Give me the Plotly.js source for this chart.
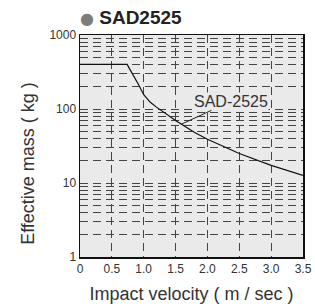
<!DOCTYPE html>
<html>
<head>
<meta charset="utf-8">
<script src="https://cdn.plot.ly/plotly-3.0.1.min.js"></script>
<style>html,body{margin:0;padding:0;background:#fff;}#chart{width:315px;height:304px;}</style>
</head>
<body>
<div id="chart"></div>
<script>
// Data
const velocity = [0, 0.74, 0.79, 0.84, 0.92, 1.0, 1.1, 1.2, 1.5, 1.8, 2.0, 2.5, 3.0, 3.5];
const effectiveMass = [400, 400, 335, 285, 213, 156, 124, 106, 70, 48, 39, 25, 17.3, 12.7];
const seriesName = 'SAD-2525';
const xTickVals = [0, 0.5, 1.0, 1.5, 2.0, 2.5, 3.0, 3.5];
const xTickText = ['0', '0.5', '1.0', '1.5', '2.0', '2.5', '3.0', '3.5'];
const yDecades = [1, 10, 100, 1000];
const labelPoint = {x: 1.585, y: 62};

const yTickVals = [];
const yTickText = [];
for (let d = 0; d < 3; d++) {
  for (let k = 1; k <= 9; k++) {
    const v = k * Math.pow(10, d);
    yTickVals.push(v);
    yTickText.push(yDecades.includes(v) ? String(v) : '');
  }
}
yTickVals.push(1000); yTickText.push('1000');

const trace = {
  x: velocity, y: effectiveMass, type: 'scatter', mode: 'lines',
  line: {color: '#111', width: 1.2}, name: seriesName, hoverinfo: 'skip'
};

const pad = '&nbsp;'.repeat(7);

const layout = {
  width: 315, height: 304,
  margin: {l: 80, r: 12, t: 35, b: 47},
  paper_bgcolor: '#fff', plot_bgcolor: '#eaeaea',
  showlegend: false,
  font: {family: 'Arial, "Liberation Sans", sans-serif', color: '#222'},
  title: {
    text: '<span style="color:#7d7d7d;font-size:16px;font-family:DejaVu Sans">●</span> <b>SAD2525</b>',
    font: {size: 19, color: '#222'},
    xref: 'container', x: 80/315, xanchor: 'left',
    yref: 'container', y: 1 - 17/304, yanchor: 'middle'
  },
  xaxis: {
    range: [0, 3.5], tickvals: xTickVals, ticktext: xTickText,
    showgrid: true, gridcolor: '#444', gridwidth: 1, griddash: '8px,5px',
    zeroline: false, showline: true, mirror: true, linecolor: '#111', linewidth: 1.5,
    ticks: '', tickfont: {size: 12, color: '#333'},
    title: {text: 'Impact velocity ( m / sec )', font: {size: 18, color: '#333'}, standoff: 12}
  },
  yaxis: {
    type: 'log', range: [0, 3], tickvals: yTickVals, ticktext: yTickText,
    showgrid: true, gridcolor: '#444', gridwidth: 1, griddash: '8px,5px',
    zeroline: false, showline: true, mirror: true, linecolor: '#111', linewidth: 1.5,
    ticks: '', tickfont: {size: 12, color: '#333'},
    title: {text: 'Effective mass ( kg )' + pad, font: {size: 18, color: '#333'}, standoff: 10}
  },
  annotations: [{
    x: labelPoint.x, y: Math.log10(labelPoint.y), xref: 'x', yref: 'y',
    text: seriesName, showarrow: true, arrowhead: 0, arrowwidth: 1, arrowcolor: '#222',
    ax: 50, ay: -23, font: {size: 16, color: '#333'}, bgcolor: '#eaeaea', borderpad: 0
  }]
};

Plotly.newPlot('chart', [trace], layout, {staticPlot: true, displayModeBar: false});
</script>
</body>
</html>
